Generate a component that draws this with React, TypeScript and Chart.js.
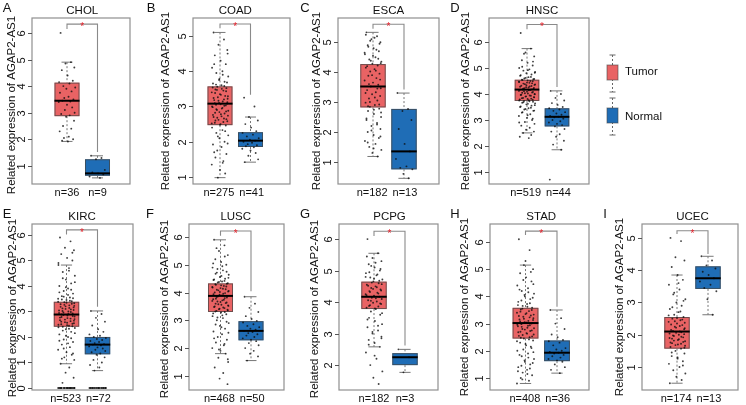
import React, { useEffect, useRef } from "react";
import { Chart, registerables } from "chart.js";
Chart.register(...registerables);

// ---------------- data ----------------
const CANCERS = ["CHOL", "COAD", "ESCA", "HNSC", "KIRC", "LUSC", "PCPG", "STAD", "UCEC"];
const LETTERS = ["A", "B", "C", "D", "E", "F", "G", "H", "I"];
const GROUPS = ["Tumor", "Normal"];
const N_TUMOR = [36, 275, 182, 519, 523, 468, 182, 408, 174];
const N_NORMAL = [9, 41, 13, 44, 72, 50, 3, 36, 13];
const Y_AXIS_TITLE = "Related expression of AGAP2-AS1";

// [lower whisker, Q1, median, Q3, upper whisker]
const TUMOR_BOX = [
  [1.92, 2.87, 3.45, 4.13, 4.9],
  [0.98, 2.47, 3.08, 3.57, 5.1],
  [1.18, 2.82, 3.52, 4.27, 5.33],
  [2.5, 3.73, 4.17, 4.55, 5.75],
  [0.95, 2.4, 2.88, 3.38, 4.82],
  [1.8, 3.3, 3.88, 4.33, 5.9],
  [2.58, 3.78, 4.17, 4.65, 5.55],
  [0.8, 2.45, 3.02, 3.58, 5.15],
  [0.5, 1.57, 2.1, 2.55, 3.85],
];
const NORMAL_BOX = [
  [0.55, 0.63, 0.72, 1.25, 1.38],
  [1.42, 1.85, 2.03, 2.27, 2.7],
  [0.45, 0.75, 1.35, 2.77, 3.3],
  [1.85, 2.75, 3.12, 3.45, 4.12],
  [0.68, 1.32, 1.7, 2.0, 3.02],
  [1.55, 2.28, 2.62, 2.97, 3.85],
  [1.77, 2.0, 2.25, 2.38, 2.5],
  [1.18, 1.62, 1.93, 2.38, 3.5],
  [2.62, 3.42, 3.75, 4.12, 4.43],
];
// significance bracket: [top, tumor leg end, normal leg end]
const BRACKET = [
  [6.33, 6.15, 1.52],
  [5.34, 5.22, 3.33],
  [5.6, 5.45, 3.42],
  [6.68, 6.5, 4.27],
  [6.2, 6.02, 3.18],
  [6.22, 6.05, 4.05],
  [6.25, 6.1, 2.62],
  [6.4, 6.26, 3.62],
  [5.22, 5.12, 4.5],
];
const Y_TICKS = [
  [1, 2, 3, 4, 5, 6],
  [1, 2, 3, 4, 5],
  [1, 2, 3, 4, 5],
  [1, 2, 3, 4, 5, 6],
  [0, 1, 2, 3, 4, 5, 6],
  [1, 2, 3, 4, 5, 6],
  [2, 3, 4, 5, 6],
  [1, 2, 3, 4, 5, 6],
  [1, 2, 3, 4, 5],
];

const CHOL_TUMOR = [6.0, 4.9, 4.85, 4.7, 4.6, 4.4, 4.2, 4.15, 4.1, 4.0, 3.95, 3.9, 3.8, 3.75, 3.6, 3.55, 3.5, 3.45, 3.42, 3.4, 3.3, 3.2, 3.1, 3.0, 2.95, 2.9, 2.85, 2.7, 2.5, 2.4, 2.3, 2.1, 2.05, 2.0, 1.95, 1.92];
const CHOL_NORMAL = [1.38, 1.3, 1.25, 0.85, 0.75, 0.72, 0.68, 0.6, 0.55];
const COAD_TUMOR = [5.1, 4.9, 4.75, 4.6, 4.45, 4.3, 4.2, 4.1, 4.0, 3.95, 3.85, 3.78, 3.7, 3.65, 3.6, 3.56, 3.52, 3.48, 3.45, 3.4, 3.35, 3.3, 3.26, 3.22, 3.18, 3.14, 3.1, 3.08, 3.05, 3.02, 2.98, 2.94, 2.9, 2.86, 2.82, 2.78, 2.74, 2.7, 2.66, 2.62, 2.58, 2.54, 2.5, 2.46, 2.4, 2.33, 2.25, 2.18, 2.1, 2.0, 1.92, 1.85, 1.75, 1.65, 1.55, 1.45, 1.35, 1.2, 1.1, 0.98,
  4.5, 4.2, 3.9, 3.75, 3.68, 3.62, 3.58, 3.54, 3.5, 3.47, 3.43, 3.38, 3.33, 3.29, 3.24, 3.2, 3.16, 3.12, 3.09, 3.06, 3.03, 3.0, 2.96, 2.92, 2.88, 2.84, 2.8, 2.76, 2.72, 2.68, 2.64, 2.6, 2.56, 2.52, 2.48, 2.3, 2.15, 1.95, 1.7, 1.4];
const COAD_NORMAL = [3.25, 3.0, 2.7, 2.6, 2.5, 2.4, 2.3, 2.25, 2.2, 2.15, 2.1, 2.06, 2.03, 2.0, 1.97, 1.93, 1.9, 1.87, 1.84, 1.8, 1.75, 1.68, 1.6, 1.5, 1.42];
const ESCA_TUMOR = [5.33, 5.2, 5.1, 5.0, 4.9, 4.8, 4.7, 4.6, 4.5, 4.42, 4.35, 4.28, 4.22, 4.15, 4.1, 4.02, 3.95, 3.88, 3.8, 3.72, 3.65, 3.58, 3.52, 3.46, 3.4, 3.33, 3.26, 3.2, 3.12, 3.05, 2.98, 2.9, 2.84, 2.78, 2.7, 2.6, 2.5, 2.4, 2.3, 2.2, 2.1, 2.0, 1.9, 1.8, 1.7, 1.6, 1.5, 1.4, 1.3, 1.18,
  5.25, 5.15, 5.05, 4.95, 4.85, 4.75, 4.65, 4.55, 4.45, 4.38, 4.3, 4.2, 4.05, 3.9, 3.75, 3.6, 3.45, 3.3, 3.15, 3.0, 2.92, 2.86, 2.74, 2.65, 2.45, 2.25, 2.05, 1.85, 1.65, 1.45];
const ESCA_NORMAL = [3.3, 2.77, 2.7, 2.4, 2.1, 1.6, 1.35, 1.1, 0.85, 0.8, 0.75, 0.6, 0.45];
const HNSC_TUMOR = [6.35, 5.75, 5.6, 5.45, 5.3, 5.2, 5.1, 5.0, 4.95, 4.9, 4.85, 4.8, 4.75, 4.7, 4.65, 4.6, 4.57, 4.54, 4.5, 4.47, 4.44, 4.41, 4.38, 4.35, 4.32, 4.29, 4.26, 4.23, 4.2, 4.18, 4.16, 4.14, 4.11, 4.08, 4.05, 4.02, 3.99, 3.96, 3.93, 3.9, 3.87, 3.84, 3.81, 3.78, 3.75, 3.72, 3.68, 3.64, 3.6, 3.55, 3.5, 3.45, 3.4, 3.35, 3.3, 3.22, 3.15, 3.08, 3.0, 2.92, 2.85, 2.78, 2.7, 2.62, 2.55, 2.5, 2.42, 2.35, 2.3,
  5.55, 5.25, 5.05, 4.92, 4.82, 4.72, 4.66, 4.62, 4.58, 4.55, 4.52, 4.49, 4.46, 4.43, 4.4, 4.37, 4.34, 4.31, 4.28, 4.25, 4.22, 4.19, 4.17, 4.15, 4.12, 4.09, 4.06, 4.03, 4.0, 3.97, 3.94, 3.91, 3.88, 3.85, 3.82, 3.79, 3.76, 3.73, 3.7, 3.66, 3.62, 3.57, 3.52, 3.47, 3.42, 3.36, 3.28, 3.18, 3.05, 2.9];
const HNSC_NORMAL = [4.12, 4.0, 3.85, 3.75, 3.65, 3.58, 3.5, 3.45, 3.4, 3.35, 3.3, 3.25, 3.2, 3.15, 3.12, 3.1, 3.05, 3.0, 2.95, 2.9, 2.85, 2.8, 2.75, 2.65, 2.55, 2.45, 2.35, 2.2, 2.05, 1.85, 0.7];
const KIRC_TUMOR = [5.9, 5.75, 5.5, 5.4, 5.25, 5.1, 5.0, 4.82, 4.7, 4.55, 4.4, 4.25, 4.1, 4.0, 3.9, 3.8, 3.7, 3.6, 3.55, 3.5, 3.45, 3.4, 3.36, 3.32, 3.28, 3.24, 3.2, 3.16, 3.12, 3.08, 3.04, 3.0, 2.96, 2.92, 2.88, 2.84, 2.8, 2.76, 2.72, 2.68, 2.64, 2.6, 2.56, 2.52, 2.48, 2.44, 2.4, 2.35, 2.3, 2.2, 2.1, 2.0, 1.9, 1.8, 1.7, 1.6, 1.5, 1.4, 1.3, 1.2, 1.1, 0.95, 0.8, 0.6, 0.4, 0.2, 0, 0, 0, 0, 0, 0, 0, 0, 0, 0, 0, 0, 0, 0,
  5.3, 4.9, 4.6, 4.3, 4.15, 3.95, 3.85, 3.75, 3.65, 3.58, 3.52, 3.47, 3.42, 3.38, 3.34, 3.3, 3.26, 3.22, 3.18, 3.14, 3.1, 3.06, 3.02, 2.98, 2.94, 2.9, 2.86, 2.82, 2.78, 2.74, 2.7, 2.66, 2.62, 2.58, 2.54, 2.5, 2.46, 2.42, 2.38, 2.32, 2.25, 2.15, 2.05, 1.95, 1.85, 1.75, 1.55, 1.35, 1.15, 0, 0, 0, 0, 0, 0, 0, 0];
const KIRC_NORMAL = [3.02, 2.9, 2.75, 2.6, 2.45, 2.3, 2.2, 2.1, 2.05, 2.0, 1.96, 1.92, 1.88, 1.84, 1.8, 1.76, 1.72, 1.7, 1.67, 1.63, 1.59, 1.55, 1.5, 1.45, 1.4, 1.35, 1.3, 1.2, 1.1, 1.0, 0.9, 0.8, 0.68, 0, 0, 0, 0, 0, 0, 0, 0, 0, 0, 0, 0, 0, 0, 0, 0, 0, 0, 0, 0];
const LUSC_TUMOR = [5.9, 5.7, 5.5, 5.35, 5.2, 5.1, 5.0, 4.9, 4.8, 4.72, 4.64, 4.56, 4.5, 4.45, 4.4, 4.36, 4.32, 4.28, 4.24, 4.2, 4.16, 4.12, 4.08, 4.04, 4.0, 3.96, 3.92, 3.88, 3.84, 3.8, 3.76, 3.72, 3.68, 3.64, 3.6, 3.56, 3.52, 3.48, 3.44, 3.4, 3.36, 3.32, 3.28, 3.22, 3.15, 3.08, 3.0, 2.9, 2.8, 2.7, 2.6, 2.5, 2.4, 2.3, 2.2, 2.1, 2.0, 1.9, 1.8, 1.65, 1.5, 1.3, 1.1, 0.9, 0.7,
  5.6, 5.3, 5.05, 4.95, 4.85, 4.75, 4.68, 4.6, 4.53, 4.47, 4.42, 4.38, 4.34, 4.3, 4.26, 4.22, 4.18, 4.14, 4.1, 4.06, 4.02, 3.98, 3.94, 3.9, 3.86, 3.82, 3.78, 3.74, 3.7, 3.66, 3.62, 3.58, 3.54, 3.5, 3.46, 3.42, 3.38, 3.34, 3.3, 3.25, 3.18, 3.1, 2.95, 2.85, 2.75, 2.55, 2.35, 2.15, 1.95, 1.6];
const LUSC_NORMAL = [3.85, 3.6, 3.45, 3.3, 3.15, 3.05, 2.98, 2.92, 2.86, 2.8, 2.75, 2.7, 2.66, 2.62, 2.58, 2.54, 2.5, 2.45, 2.4, 2.35, 2.3, 2.25, 2.18, 2.1, 2.0, 1.9, 1.8, 1.7, 1.55];
const PCPG_TUMOR = [6.0, 5.55, 5.4, 5.3, 5.2, 5.1, 5.0, 4.92, 4.85, 4.78, 4.72, 4.66, 4.6, 4.55, 4.5, 4.45, 4.4, 4.35, 4.3, 4.25, 4.2, 4.17, 4.14, 4.1, 4.06, 4.02, 3.98, 3.94, 3.9, 3.86, 3.82, 3.78, 3.7, 3.6, 3.5, 3.4, 3.3, 3.2, 3.1, 3.0, 2.9, 2.8, 2.7, 2.58, 2.4, 2.2, 2.0, 1.8, 1.6, 1.4,
  5.45, 5.25, 5.15, 5.05, 4.95, 4.88, 4.8, 4.74, 4.68, 4.62, 4.57, 4.52, 4.47, 4.42, 4.37, 4.32, 4.27, 4.22, 4.12, 4.04, 3.96, 3.88, 3.8, 3.65, 3.45, 3.25, 3.05, 2.85, 2.65, 2.3];
const PCPG_NORMAL = [2.5, 2.25, 1.77];
const STAD_TUMOR = [6.1, 5.7, 5.15, 5.0, 4.85, 4.7, 4.55, 4.4, 4.3, 4.2, 4.1, 4.0, 3.9, 3.8, 3.72, 3.65, 3.58, 3.52, 3.46, 3.4, 3.35, 3.3, 3.25, 3.2, 3.15, 3.1, 3.05, 3.02, 2.98, 2.94, 2.9, 2.85, 2.8, 2.75, 2.7, 2.65, 2.6, 2.55, 2.5, 2.45, 2.38, 2.3, 2.2, 2.1, 2.0, 1.9, 1.8, 1.7, 1.6, 1.5, 1.4, 1.3, 1.2, 1.1, 1.0, 0.9, 0.8,
  5.3, 4.9, 4.6, 4.45, 4.25, 4.15, 4.05, 3.95, 3.85, 3.75, 3.68, 3.62, 3.55, 3.5, 3.44, 3.38, 3.33, 3.28, 3.23, 3.18, 3.13, 3.08, 3.04, 3.0, 2.96, 2.92, 2.88, 2.83, 2.78, 2.73, 2.68, 2.63, 2.58, 2.53, 2.48, 2.42, 2.35, 2.25, 2.15, 2.05, 1.95, 1.85, 1.75, 1.65, 1.55, 1.45, 1.35, 1.25, 1.15, 0.95];
const STAD_NORMAL = [3.5, 3.2, 3.0, 2.8, 2.6, 2.5, 2.4, 2.35, 2.3, 2.2, 2.1, 2.05, 2.0, 1.96, 1.93, 1.9, 1.85, 1.8, 1.75, 1.7, 1.65, 1.6, 1.5, 1.4, 1.3, 1.18];
const UCEC_TUMOR = [5.0, 4.9, 4.4, 4.3, 4.1, 3.85, 3.7, 3.55, 3.4, 3.25, 3.1, 3.0, 2.9, 2.8, 2.7, 2.62, 2.55, 2.5, 2.45, 2.4, 2.35, 2.3, 2.25, 2.2, 2.15, 2.1, 2.06, 2.02, 1.98, 1.94, 1.9, 1.86, 1.82, 1.78, 1.74, 1.7, 1.66, 1.62, 1.57, 1.5, 1.42, 1.34, 1.26, 1.18, 1.1, 1.0, 0.9, 0.8, 0.7, 0.6, 0.5,
  3.6, 3.3, 3.05, 2.85, 2.72, 2.6, 2.52, 2.47, 2.42, 2.37, 2.32, 2.27, 2.22, 2.17, 2.12, 2.08, 2.04, 2.0, 1.96, 1.92, 1.88, 1.84, 1.8, 1.76, 1.72, 1.68, 1.6, 1.45, 1.3, 1.05];
const UCEC_NORMAL = [4.43, 4.3, 4.15, 4.05, 3.95, 3.85, 3.75, 3.65, 3.55, 3.45, 3.35, 3.1, 2.62];

const TUMOR_POINTS = [CHOL_TUMOR, COAD_TUMOR, ESCA_TUMOR, HNSC_TUMOR, KIRC_TUMOR, LUSC_TUMOR, PCPG_TUMOR, STAD_TUMOR, UCEC_TUMOR];
const NORMAL_POINTS = [CHOL_NORMAL, COAD_NORMAL, ESCA_NORMAL, HNSC_NORMAL, KIRC_NORMAL, LUSC_NORMAL, PCPG_NORMAL, STAD_NORMAL, UCEC_NORMAL];

// fixed horizontal jitter table (category units)
const JITTER = [-0.21, 0.13, -0.05, 0.24, -0.17, 0.02, 0.19, -0.26, 0.08, -0.12, 0.27, -0.02, 0.15, -0.23, 0.05, -0.09, 0.21, -0.15, 0.11, -0.27, 0.0, 0.17, -0.07, 0.25, -0.19, 0.09, -0.03, 0.23, -0.13, 0.14, -0.24, 0.06, -0.1, 0.2, -0.16, 0.03, 0.26];

// ---------------- layout ----------------
const W = 746;
const H = 405;
// frame [x0, x1, y0, y1], box centres in px, y range, panel letter pos, y-title position
const LAYOUT = [
  { frame: [32, 130, 18, 184], centers: [67, 97.5], yRange: [0.32, 6.56], letter: [7, 8], yTitle: [12, 105] },
  { frame: [193, 290, 18, 184], centers: [220, 250.5], yRange: [0.8, 5.51], letter: [151, 8], yTitle: [166, 101] },
  { frame: [338, 439, 18, 184], centers: [373, 404], yRange: [0.26, 5.81], letter: [305, 8], yTitle: [317, 101] },
  { frame: [489, 589, 18, 184], centers: [527, 557], yRange: [0.53, 6.93], letter: [455, 8], yTitle: [466, 101] },
  { frame: [32, 133, 224, 390], centers: [66.5, 97.5], yRange: [-0.08, 6.43], letter: [7, 214], yTitle: [13, 308] },
  { frame: [189, 284, 224, 390], centers: [220.5, 251], yRange: [0.49, 6.47], letter: [150, 214], yTitle: [165, 309] },
  { frame: [339, 438, 224, 390], centers: [374, 405], yRange: [1.21, 6.48], letter: [305, 214], yTitle: [315, 309] },
  { frame: [490, 589, 224, 390], centers: [525.5, 557], yRange: [0.56, 6.66], letter: [455, 214], yTitle: [465, 307] },
  { frame: [642, 738, 224, 390], centers: [677, 708], yRange: [0.29, 5.43], letter: [605, 214], yTitle: [620, 307] },
];

const TUMOR_COLOR = "#E96364";
const NORMAL_COLOR = "#1F6DB6";
const FONT = '"Liberation Sans", Arial, sans-serif';
const BOX_HALF = 0.41;
const CAP_HALF = 0.18;

function makePlugin(i: number) {
  const drawBox = (ctx: CanvasRenderingContext2D, chart: any, g: number, s: number[], fill: string, medianOnly: boolean) => {
    const xs = chart.scales.x;
    const ys = chart.scales.y;
    const [lo, q1, md, q3, hi] = s;
    const cx = xs.getPixelForValue(g);
    const hw = xs.getPixelForValue(g + BOX_HALF) - cx;
    const cw = xs.getPixelForValue(g + CAP_HALF) - cx;
    ctx.save();
    if (medianOnly) {
      ctx.strokeStyle = "#000";
      ctx.lineWidth = 2;
      ctx.beginPath();
      ctx.moveTo(cx - hw, ys.getPixelForValue(md));
      ctx.lineTo(cx + hw, ys.getPixelForValue(md));
      ctx.stroke();
      ctx.restore();
      return;
    }
    ctx.strokeStyle = "#777";
    ctx.lineWidth = 1;
    ctx.setLineDash([2, 2]);
    ctx.beginPath();
    ctx.moveTo(cx, ys.getPixelForValue(hi));
    ctx.lineTo(cx, ys.getPixelForValue(q3));
    ctx.moveTo(cx, ys.getPixelForValue(q1));
    ctx.lineTo(cx, ys.getPixelForValue(lo));
    ctx.stroke();
    ctx.setLineDash([]);
    ctx.beginPath();
    ctx.moveTo(cx - cw, ys.getPixelForValue(hi));
    ctx.lineTo(cx + cw, ys.getPixelForValue(hi));
    ctx.moveTo(cx - cw, ys.getPixelForValue(lo));
    ctx.lineTo(cx + cw, ys.getPixelForValue(lo));
    ctx.stroke();
    const top = ys.getPixelForValue(q3);
    const bot = ys.getPixelForValue(q1);
    ctx.fillStyle = fill;
    ctx.fillRect(cx - hw, top, 2 * hw, bot - top);
    ctx.strokeStyle = "rgba(70,70,70,0.75)";
    ctx.strokeRect(cx - hw + 0.5, top + 0.5, 2 * hw - 1, bot - top - 1);
    ctx.restore();
  };

  return {
    id: "boxplot" + i,
    beforeDatasetsDraw(chart: any) {
      const ctx = chart.ctx;
      drawBox(ctx, chart, 1, TUMOR_BOX[i], TUMOR_COLOR, false);
      drawBox(ctx, chart, 2, NORMAL_BOX[i], NORMAL_COLOR, false);
    },
    afterDatasetsDraw(chart: any) {
      const ctx = chart.ctx;
      drawBox(ctx, chart, 1, TUMOR_BOX[i], TUMOR_COLOR, true);
      drawBox(ctx, chart, 2, NORMAL_BOX[i], NORMAL_COLOR, true);
    },
    afterDraw(chart: any) {
      const ctx: CanvasRenderingContext2D = chart.ctx;
      const xs = chart.scales.x;
      const ys = chart.scales.y;
      const a = chart.chartArea;
      const L = LAYOUT[i];
      ctx.save();
      // frame
      ctx.strokeStyle = "#8f8f8f";
      ctx.lineWidth = 1.2;
      ctx.strokeRect(a.left, a.top, a.right - a.left, a.bottom - a.top);
      // ticks & labels
      ctx.strokeStyle = "#555";
      ctx.lineWidth = 1;
      ctx.fillStyle = "#111";
      ctx.font = "11px " + FONT;
      ctx.textAlign = "center";
      ctx.textBaseline = "middle";
      for (const t of Y_TICKS[i]) {
        const y = Math.round(ys.getPixelForValue(t)) + 0.5;
        ctx.beginPath();
        ctx.moveTo(a.left - 4, y);
        ctx.lineTo(a.left, y);
        ctx.stroke();
        ctx.save();
        ctx.translate(a.left - 10, y);
        ctx.rotate(-Math.PI / 2);
        ctx.fillText(String(t), 0, 0);
        ctx.restore();
      }
      // y title
      ctx.save();
      ctx.font = "11.5px " + FONT;
      ctx.translate(L.yTitle[0], L.yTitle[1]);
      ctx.rotate(-Math.PI / 2);
      ctx.fillText(Y_AXIS_TITLE, 0, 0);
      ctx.restore();
      // panel title
      ctx.font = "11.5px " + FONT;
      ctx.fillText(CANCERS[i], xs.getPixelForValue(1.5), a.top - 7);
      // n labels (kept apart by at least 5px)
      ctx.font = "11px " + FONT;
      const t1 = "n=" + N_TUMOR[i];
      const t2 = "n=" + N_NORMAL[i];
      const w1 = ctx.measureText(t1).width;
      const w2 = ctx.measureText(t2).width;
      let c1 = xs.getPixelForValue(1);
      let c2 = xs.getPixelForValue(2);
      const gap = (c2 - w2 / 2) - (c1 + w1 / 2);
      if (gap < 5) {
        const d = (5 - gap) / 2;
        c1 -= d;
        c2 += d;
      }
      ctx.fillText(t1, c1, a.bottom + 9);
      ctx.fillText(t2, c2, a.bottom + 9);
      // panel letter
      ctx.font = "13px " + FONT;
      ctx.fillText(LETTERS[i], L.letter[0], L.letter[1]);
      // bracket
      const [bt, bl, br] = BRACKET[i];
      const x1 = xs.getPixelForValue(1);
      const x2 = xs.getPixelForValue(2);
      const yt = ys.getPixelForValue(bt);
      ctx.strokeStyle = "#8a8a8a";
      ctx.lineWidth = 1.1;
      ctx.beginPath();
      ctx.moveTo(x1, ys.getPixelForValue(bl));
      ctx.lineTo(x1, yt);
      ctx.lineTo(x2, yt);
      ctx.lineTo(x2, ys.getPixelForValue(br));
      ctx.stroke();
      ctx.fillStyle = "#E8202A";
      ctx.font = "10px " + FONT;
      ctx.fillText("*", (x1 + x2) / 2, yt + 3);
      // legend (drawn with panel D)
      if (i === 3) {
        const items = [
          { label: GROUPS[0], color: TUMOR_COLOR, y: [55, 65, 80, 92], ty: 72 },
          { label: GROUPS[1], color: NORMAL_COLOR, y: [98, 108, 123, 135], ty: 117 },
        ];
        const lx = 612.5;
        for (const it of items) {
          ctx.strokeStyle = "#666";
          ctx.lineWidth = 1;
          ctx.setLineDash([2, 2]);
          ctx.beginPath();
          ctx.moveTo(lx, it.y[0]);
          ctx.lineTo(lx, it.y[3]);
          ctx.stroke();
          ctx.setLineDash([]);
          ctx.beginPath();
          ctx.moveTo(lx - 3, it.y[0]);
          ctx.lineTo(lx + 3, it.y[0]);
          ctx.moveTo(lx - 3, it.y[3]);
          ctx.lineTo(lx + 3, it.y[3]);
          ctx.stroke();
          ctx.fillStyle = it.color;
          ctx.fillRect(lx - 5.5, it.y[1], 11, it.y[2] - it.y[1]);
          ctx.strokeStyle = "rgba(70,70,70,0.6)";
          ctx.strokeRect(lx - 5.5, it.y[1], 11, it.y[2] - it.y[1]);
          ctx.fillStyle = "#111";
          ctx.font = "11.5px " + FONT;
          ctx.textAlign = "left";
          ctx.fillText(it.label, 625, it.ty);
          ctx.textAlign = "center";
        }
      }
      ctx.restore();
    },
  };
}

function toPoints(values: number[], g: number) {
  return values.map((v, k) => ({ x: g + JITTER[k % JITTER.length], y: v }));
}

function Panel({ i }: { i: number }) {
  const ref = useRef<HTMLCanvasElement>(null);
  useEffect(() => {
    const L = LAYOUT[i];
    const [x0, x1, y0, y1] = L.frame;
    const [cT, cN] = L.centers;
    const unit = cN - cT;
    const xMin = 1 - (cT - x0) / unit;
    const xMax = 2 + (x1 - cN) / unit;
    const chart = new Chart(ref.current as HTMLCanvasElement, {
      type: "scatter",
      data: {
        datasets: [
          { data: toPoints(TUMOR_POINTS[i], 1), pointRadius: 0.95, pointBackgroundColor: "rgba(15,15,15,0.8)", pointBorderWidth: 0 },
          { data: toPoints(NORMAL_POINTS[i], 2), pointRadius: 0.95, pointBackgroundColor: "rgba(15,15,15,0.8)", pointBorderWidth: 0 },
        ],
      },
      options: {
        responsive: false,
        animation: false,
        devicePixelRatio: 1,
        events: [],
        layout: { padding: { left: x0, top: y0, right: W - x1, bottom: H - y1 } },
        scales: {
          x: { type: "linear", min: xMin, max: xMax, display: false },
          y: { type: "linear", min: L.yRange[0], max: L.yRange[1], display: false },
        },
        plugins: { legend: { display: false }, tooltip: { enabled: false } },
      },
      plugins: [makePlugin(i)],
    } as any);
    return () => chart.destroy();
  }, [i]);
  return <canvas ref={ref} width={W} height={H} style={{ position: "absolute", left: 0, top: 0, width: W, height: H }} />;
}

export default function App() {
  return (
    <div style={{ position: "absolute", left: 0, top: 0, width: W, height: H, background: "#fff", overflow: "hidden" }}>
      {CANCERS.map((_, i) => (
        <Panel key={i} i={i} />
      ))}
    </div>
  );
}
